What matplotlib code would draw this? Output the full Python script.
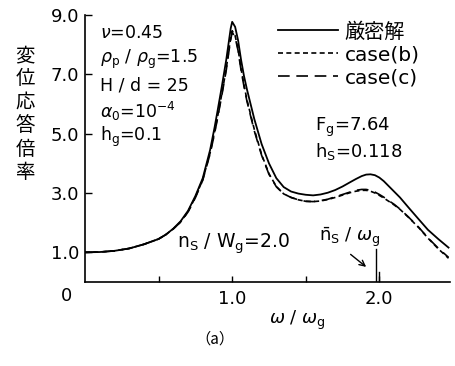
import matplotlib
matplotlib.use("Agg")
import matplotlib.pyplot as plt

plt.rcParams['font.family'] = ['DejaVu Sans', 'Noto Sans CJK JP']
plt.rcParams['mathtext.fontset'] = 'dejavusans'

# frequency ratio omega / omega_g
omega = [0.0, 0.1, 0.2, 0.3, 0.4, 0.5,
         0.55, 0.6, 0.65, 0.7, 0.75, 0.8, 0.85,
         0.88, 0.9, 0.93, 0.96, 0.98, 0.99, 1.0,
         1.02, 1.04, 1.06, 1.08, 1.1, 1.12, 1.15,
         1.2, 1.25, 1.3, 1.35, 1.4, 1.45, 1.5, 1.55,
         1.6, 1.65, 1.7, 1.75, 1.8, 1.84, 1.88, 1.91, 1.94, 1.97,
         2.0, 2.03, 2.07, 2.1, 2.14, 2.2, 2.27, 2.33, 2.4, 2.47]

exact = [1.0, 1.01, 1.05, 1.13, 1.27, 1.45,
         1.6, 1.8, 2.05, 2.4, 2.9, 3.5, 4.45,
         5.2, 5.75, 6.6, 7.5, 8.2, 8.55, 8.77,
         8.6, 8.15, 7.5, 6.95, 6.5, 6.1, 5.5,
         4.65, 4.0, 3.5, 3.2, 3.05, 2.98, 2.94, 2.92,
         2.95, 3.01, 3.1, 3.22, 3.36, 3.47, 3.57, 3.62, 3.63, 3.6,
         3.52, 3.4, 3.2, 3.05, 2.85, 2.5, 2.1, 1.76, 1.45, 1.16]

case_b = [1.0, 1.01, 1.05, 1.13, 1.27, 1.45,
          1.6, 1.79, 2.03, 2.37, 2.86, 3.45, 4.35,
          5.05, 5.55, 6.35, 7.2, 7.9, 8.22, 8.47,
          8.3, 7.85, 7.2, 6.65, 6.15, 5.75, 5.15,
          4.3, 3.65, 3.22, 2.97, 2.85, 2.77, 2.72, 2.71,
          2.73, 2.78, 2.85, 2.93, 3.01, 3.06, 3.09, 3.09, 3.06, 3.0,
          2.92, 2.83, 2.7, 2.6, 2.45, 2.17, 1.82, 1.48, 1.12, 0.8]

case_c = [1.0, 1.01, 1.05, 1.13, 1.27, 1.45,
          1.6, 1.79, 2.02, 2.36, 2.84, 3.43, 4.32,
          5.0, 5.5, 6.3, 7.15, 7.85, 8.17, 8.42,
          8.25, 7.8, 7.15, 6.6, 6.1, 5.7, 5.1,
          4.27, 3.63, 3.21, 2.97, 2.85, 2.77, 2.72, 2.71,
          2.74, 2.79, 2.87, 2.95, 3.03, 3.09, 3.12, 3.12, 3.09, 3.03,
          2.95, 2.86, 2.72, 2.62, 2.46, 2.18, 1.83, 1.49, 1.14, 0.83]

labels = ['厳密解', 'case(b)', 'case(c)']
yticks = [1.0, 3.0, 5.0, 7.0, 9.0]
ytick_labels = ['1.0', '3.0', '5.0', '7.0', '9.0']
xticks = [1.0, 2.0]
xtick_labels = ['1.0', '2.0']
xminor = [0.5, 1.5]
ns_ratio = 1.98

fig = plt.figure(figsize=(4.56, 3.66), dpi=100)
ax = fig.add_axes([85/456, 1-282/366, (450-85)/456, (282-15)/366])

l1, = ax.plot(omega, exact, color='black', lw=1.3, label=labels[0])
l2, = ax.plot(omega, case_b, color='black', lw=1.2, dashes=(3, 2), label=labels[1])
l3, = ax.plot(omega, case_c, color='black', lw=1.2, dashes=(7, 4), label=labels[2])

ax.set_xlim(0, 2.48)
ax.set_ylim(0, 9.0)
for s in ['top', 'right']:
    ax.spines[s].set_visible(False)
for s in ['left', 'bottom']:
    ax.spines[s].set_linewidth(1.2)

ax.set_yticks(yticks)
ax.set_yticklabels(ytick_labels, fontsize=13)
ax.set_xticks(xticks)
ax.set_xticklabels(xtick_labels, fontsize=13)
ax.set_xticks(xminor, minor=True)
ax.tick_params(axis='y', direction='in', length=5, width=1, pad=4)
ax.tick_params(axis='x', which='both', direction='in', length=4, width=1, pad=6)

# ns line at 2.0
ax.plot([ns_ratio, ns_ratio], [0, 1.1], color='black', lw=1.0)
ax.plot([ns_ratio + 0.02, ns_ratio + 0.02], [0, 0.35], color='black', lw=1.0)
ax.annotate('', xy=(1.925, 0.45), xytext=(1.79, 0.99),
            arrowprops=dict(arrowstyle='->', color='black', lw=1.0))

ax.text(1.80, 1.5, r'$\bar{\rm n}_{\rm S}$ / $\omega_{\rm g}$', fontsize=13,
        ha='center', va='center')
ax.text(1.01, 1.3, r'n$_{\rm S}$ / W$_{\rm g}$=2.0', fontsize=13.5, ha='center', va='center')

params = [r'$\nu$=0.45', r'$\rho_{\rm p}$ / $\rho_{\rm g}$=1.5', r'H / d = 25',
          r'$\alpha_0$=10$^{-4}$', r'h$_{\rm g}$=0.1']
for i, t in enumerate(params):
    fig.text(100/456, 1 - (33 + 26*i)/366, t, fontsize=12.5, ha='left', va='center')

fig.text(315/456, 1 - 127/366, r'F$_{\rm g}$=7.64', fontsize=13, ha='left', va='center')
fig.text(315/456, 1 - 151/366, r'h$_{\rm S}$=0.118', fontsize=13, ha='left', va='center')

ax.legend(handles=[l1, l2, l3], loc='upper left', bbox_to_anchor=(278/456, 1 - 22/366),
          bbox_transform=fig.transFigure, frameon=False, fontsize=14.5,
          handlelength=3.0, handletextpad=0.3, labelspacing=0.2,
          borderpad=0, borderaxespad=0)

fig.text(67/456, 1 - 296/366, '0', fontsize=13, ha='center', va='center')
fig.text(297/456, 1 - 320/366, r'$\omega$ / $\omega_{\rm g}$', fontsize=13, ha='center', va='center')
fig.text(215/456, 1 - 339/366, '（a）', fontsize=11, ha='center', va='center',
         family=['Noto Sans CJK JP'])
fig.text(25/456, 1 - 114/366, '\n'.join('変位応答倍率'), fontsize=14, ha='center',
         va='center', linespacing=1.15, family=['Noto Sans CJK JP'])

fig.savefig('out.png', dpi=100)
